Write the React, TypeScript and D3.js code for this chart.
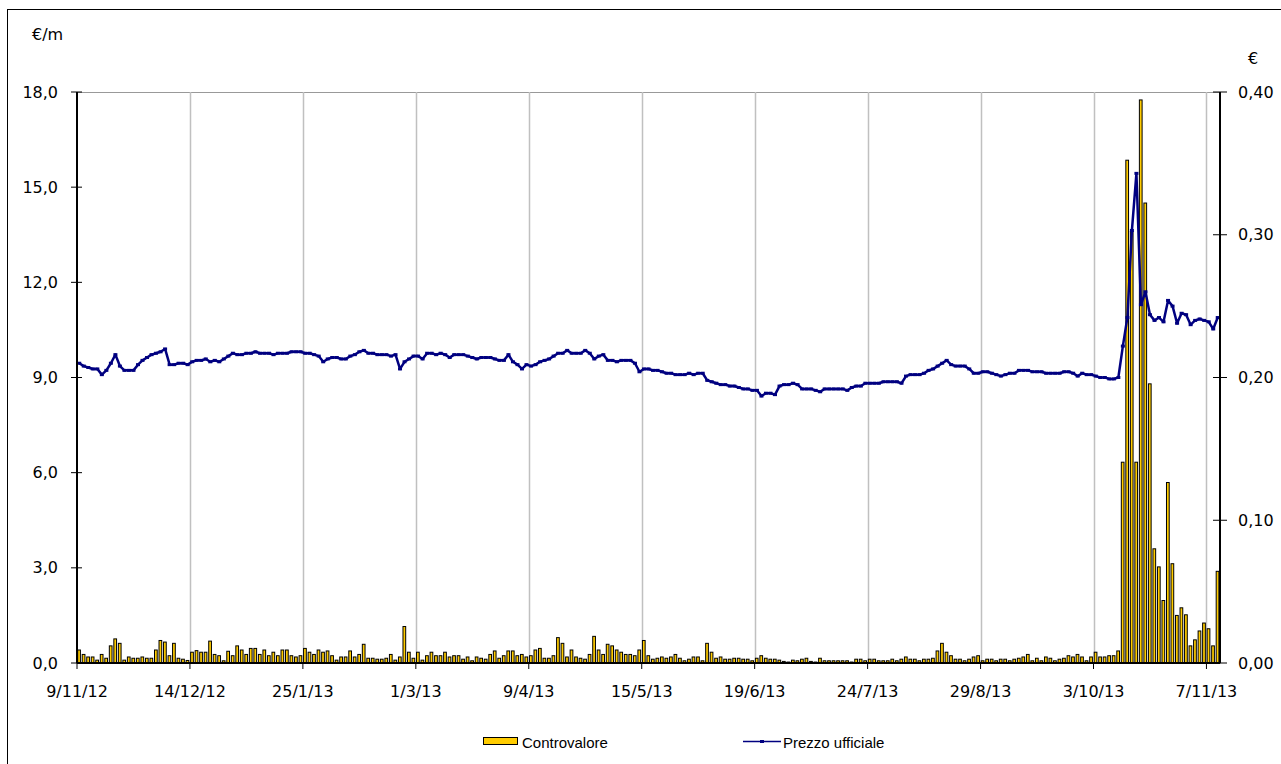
import * as d3 from "d3";
import React from "react";

// Controvalore (€/m), one value per trading day, 9/11/12 .. 11/11/13
const controvalore: number[] = [
  0.41, 0.27, 0.19, 0.19, 0.09, 0.27, 0.15, 0.54, 0.76, 0.62, 0.09, 0.19, 0.15, 0.15, 0.19, 0.15, 0.15, 0.41, 0.71, 0.66, 0.23, 0.62, 0.15, 0.12, 0.08,
  0.34, 0.39, 0.34, 0.34, 0.69, 0.27, 0.23, 0.07, 0.37, 0.23, 0.54, 0.41, 0.27, 0.46, 0.46, 0.27, 0.41, 0.23, 0.34, 0.23, 0.41, 0.41, 0.23, 0.19, 0.23,
  0.46, 0.34, 0.27, 0.41, 0.34, 0.38, 0.23, 0.09, 0.19, 0.19, 0.38, 0.19, 0.27, 0.59, 0.15, 0.15, 0.12, 0.12, 0.15, 0.27, 0.09, 0.19, 1.15, 0.34, 0.15,
  0.34, 0.09, 0.23, 0.34, 0.23, 0.23, 0.34, 0.19, 0.23, 0.23, 0.12, 0.19, 0.07, 0.19, 0.15, 0.12, 0.27, 0.38, 0.15, 0.23, 0.38, 0.38, 0.23, 0.27, 0.19,
  0.23, 0.41, 0.46, 0.15, 0.15, 0.23, 0.8, 0.62, 0.19, 0.41, 0.19, 0.15, 0.12, 0.27, 0.84, 0.41, 0.27, 0.59, 0.54, 0.41, 0.34, 0.27, 0.27, 0.23, 0.41,
  0.71, 0.23, 0.12, 0.15, 0.19, 0.15, 0.19, 0.27, 0.15, 0.07, 0.12, 0.19, 0.19, 0.07, 0.62, 0.34, 0.15, 0.19, 0.12, 0.12, 0.15, 0.15, 0.12, 0.12, 0.07,
  0.15, 0.23, 0.15, 0.12, 0.12, 0.09, 0.05, 0.03, 0.09, 0.07, 0.12, 0.15, 0.05, 0.03, 0.15, 0.07, 0.07, 0.07, 0.07, 0.07, 0.07, 0.03, 0.12, 0.12, 0.07,
  0.12, 0.12, 0.07, 0.07, 0.07, 0.12, 0.07, 0.12, 0.19, 0.12, 0.12, 0.07, 0.12, 0.12, 0.15, 0.38, 0.62, 0.34, 0.23, 0.12, 0.12, 0.07, 0.12, 0.19, 0.23,
  0.07, 0.12, 0.12, 0.07, 0.12, 0.12, 0.07, 0.12, 0.15, 0.19, 0.27, 0.07, 0.15, 0.07, 0.19, 0.15, 0.07, 0.12, 0.15, 0.23, 0.19, 0.27, 0.19, 0.07, 0.19,
  0.34, 0.19, 0.19, 0.23, 0.23, 0.38, 6.33, 15.85, 13.6, 6.33, 17.75, 14.5, 8.8, 3.6, 3.03, 1.97, 5.69, 3.13, 1.5, 1.74, 1.52, 0.54, 0.73, 1.01, 1.26,
  1.08, 0.54, 2.89,
];

// Prezzo ufficiale (€)
const prezzo: number[] = [
  0.21, 0.208, 0.207, 0.206, 0.206, 0.202, 0.205, 0.21, 0.216, 0.208, 0.205, 0.205, 0.205, 0.209, 0.212, 0.214, 0.216, 0.217, 0.218, 0.22, 0.209, 0.209, 0.21, 0.21, 0.209,
  0.211, 0.212, 0.212, 0.213, 0.211, 0.212, 0.211, 0.213, 0.215, 0.217, 0.216, 0.216, 0.217, 0.217, 0.218, 0.217, 0.217, 0.217, 0.216, 0.217, 0.217, 0.217, 0.218, 0.218, 0.218,
  0.217, 0.217, 0.216, 0.215, 0.211, 0.213, 0.214, 0.214, 0.213, 0.213, 0.215, 0.216, 0.218, 0.219, 0.217, 0.217, 0.216, 0.216, 0.216, 0.215, 0.216, 0.206, 0.211, 0.213, 0.215,
  0.215, 0.213, 0.217, 0.217, 0.216, 0.217, 0.216, 0.214, 0.216, 0.216, 0.216, 0.215, 0.214, 0.213, 0.214, 0.214, 0.214, 0.213, 0.212, 0.212, 0.216, 0.211, 0.209, 0.206, 0.209,
  0.208, 0.209, 0.211, 0.212, 0.213, 0.215, 0.217, 0.217, 0.219, 0.217, 0.217, 0.217, 0.219, 0.217, 0.213, 0.215, 0.216, 0.212, 0.212, 0.211, 0.212, 0.212, 0.212, 0.21, 0.204,
  0.206, 0.206, 0.205, 0.205, 0.204, 0.203, 0.203, 0.202, 0.202, 0.202, 0.203, 0.202, 0.203, 0.203, 0.198, 0.197, 0.196, 0.195, 0.195, 0.194, 0.194, 0.193, 0.192, 0.192, 0.191,
  0.191, 0.187, 0.189, 0.189, 0.188, 0.194, 0.195, 0.195, 0.196, 0.195, 0.192, 0.192, 0.192, 0.191, 0.19, 0.192, 0.192, 0.192, 0.192, 0.192, 0.191, 0.193, 0.194, 0.194, 0.196,
  0.196, 0.196, 0.196, 0.197, 0.197, 0.197, 0.197, 0.196, 0.201, 0.202, 0.202, 0.202, 0.203, 0.205, 0.206, 0.208, 0.21, 0.212, 0.209, 0.208, 0.208, 0.208, 0.206, 0.203, 0.203,
  0.204, 0.204, 0.203, 0.202, 0.201, 0.202, 0.203, 0.203, 0.205, 0.205, 0.205, 0.204, 0.204, 0.204, 0.203, 0.203, 0.203, 0.203, 0.204, 0.204, 0.203, 0.201, 0.203, 0.202, 0.202,
  0.201, 0.2, 0.2, 0.199, 0.199, 0.2, 0.222, 0.242, 0.303, 0.343, 0.251, 0.26, 0.244, 0.24, 0.242, 0.239, 0.254, 0.25, 0.238, 0.245, 0.244, 0.237, 0.24, 0.241, 0.24,
  0.239, 0.234, 0.242,
];

// x labels, one every 25 trading days
const dateLabels = ["9/11/12", "14/12/12", "25/1/13", "1/3/13", "9/4/13", "15/5/13", "19/6/13", "24/7/13", "29/8/13", "3/10/13", "7/11/13"];
const labelStep = 25;

const leftTicks = [0, 3, 6, 9, 12, 15, 18];
const rightTicks = [0, 0.1, 0.2, 0.3, 0.4];

const W = 1281;
const H = 764;
const margin = { left: 77, right: 1220, top: 92, bottom: 663 };
const tickFont = "'DejaVu Sans', Verdana, sans-serif";
const legendFont = "'Liberation Sans', Arial, sans-serif";

export default function App() {
  const n = controvalore.length;
  const x = d3.scaleLinear().domain([0, n]).range([margin.left, margin.right]);
  const yL = d3.scaleLinear().domain([0, 18]).range([margin.bottom, margin.top]);
  const yR = d3.scaleLinear().domain([0, 0.4]).range([margin.bottom, margin.top]);
  const bw = x(1) - x(0);

  const line = d3
    .line<number>()
    .x((_, i) => x(i + 0.5))
    .y((d) => yR(d));

  const fmt1 = (v: number) => d3.format(".1f")(v).replace(".", ",");
  const fmt2 = (v: number) => d3.format(".2f")(v).replace(".", ",");

  return (
    <svg
      width={W}
      height={H}
      style={{ position: "absolute", left: 0, top: 0, background: "#fff" }}
    >
      {/* outer border */}
      <rect x={7.5} y={9.5} width={1290} height={770} fill="none" stroke="#000" strokeWidth={1} />

      {/* plot area border */}
      <rect
        x={margin.left}
        y={margin.top + 0.5}
        width={margin.right - margin.left}
        height={margin.bottom - margin.top}
        fill="none"
        stroke="#999"
        strokeWidth={1}
      />

      {/* vertical gridlines */}
      {dateLabels.map((_, k) =>
        k === 0 ? null : (
          <line
            key={"g" + k}
            x1={Math.round(x(k * labelStep)) + 0.5}
            x2={Math.round(x(k * labelStep)) + 0.5}
            y1={margin.top}
            y2={margin.bottom}
            stroke="#c0c0c0"
            strokeWidth={1.5}
          />
        )
      )}

      {/* bars */}
      {controvalore.map((v, i) => (
        <rect
          key={"b" + i}
          x={x(i) + 0.7}
          y={yL(v)}
          width={bw - 1.8}
          height={margin.bottom - yL(v)}
          fill="#ffcc00"
          stroke="#000"
          strokeWidth={1}
        />
      ))}

      {/* price line */}
      <path d={line(prezzo) || ""} fill="none" stroke="#000080" strokeWidth={2.5} strokeLinejoin="round" />
      {prezzo.map((v, i) => (
        <rect key={"m" + i} x={x(i + 0.5) - 2} y={yR(v) - 1.5} width={4} height={3} fill="#000080" />
      ))}

      {/* left axis */}
      <line x1={margin.left} x2={margin.left} y1={margin.top} y2={margin.bottom} stroke="#000" strokeWidth={2} />
      {leftTicks.map((t) => (
        <g key={"lt" + t}>
          <line x1={margin.left - 6} x2={margin.left + 5} y1={yL(t)} y2={yL(t)} stroke="#000" strokeWidth={1} />
          <text
            x={58}
            y={yL(t)}
            textAnchor="end"
            dominantBaseline="central"
            fontFamily={tickFont}
            fontSize={16}
            fill="#000"
          >
            {fmt1(t)}
          </text>
        </g>
      ))}

      {/* right axis */}
      <line x1={margin.right} x2={margin.right} y1={margin.top} y2={margin.bottom} stroke="#000" strokeWidth={2} />
      {rightTicks.map((t) => (
        <g key={"rt" + t}>
          <line x1={margin.right - 7} x2={margin.right + 7} y1={yR(t)} y2={yR(t)} stroke="#000" strokeWidth={1} />
          <text
            x={1238}
            y={yR(t)}
            textAnchor="start"
            dominantBaseline="central"
            fontFamily={tickFont}
            fontSize={16}
            fill="#000"
          >
            {fmt2(t)}
          </text>
        </g>
      ))}

      {/* bottom axis */}
      <line x1={margin.left} x2={margin.right} y1={margin.bottom} y2={margin.bottom} stroke="#000" strokeWidth={2} />
      {dateLabels.map((lab, k) => {
        const xx = x(k * labelStep);
        return (
          <g key={"xt" + k}>
            <line x1={xx} x2={xx} y1={margin.bottom} y2={margin.bottom + 6} stroke="#000" strokeWidth={1} />
            <text
              x={xx}
              y={691}
              textAnchor="middle"
              dominantBaseline="central"
              fontFamily={tickFont}
              fontSize={16}
              fill="#000"
            >
              {lab}
            </text>
          </g>
        );
      })}

      {/* unit labels */}
      <text x={32} y={34} dominantBaseline="central" fontFamily={tickFont} fontSize={16} fill="#000">
        €/m
      </text>
      <text x={1248} y={58} dominantBaseline="central" fontFamily={tickFont} fontSize={16} fill="#000">
        €
      </text>

      {/* legend */}
      <rect x={483.5} y={737.5} width={34} height={7} fill="#ffcc00" stroke="#000" strokeWidth={1} />
      <text x={522} y={742} dominantBaseline="central" fontFamily={legendFont} fontSize={15} fill="#000">
        Controvalore
      </text>
      <line x1={743} x2={781} y1={741.5} y2={741.5} stroke="#000080" strokeWidth={1.5} />
      <rect x={760} y={740} width={4} height={3} fill="#000080" />
      <text x={783} y={742} dominantBaseline="central" fontFamily={legendFont} fontSize={15} fill="#000">
        Prezzo ufficiale
      </text>
    </svg>
  );
}
